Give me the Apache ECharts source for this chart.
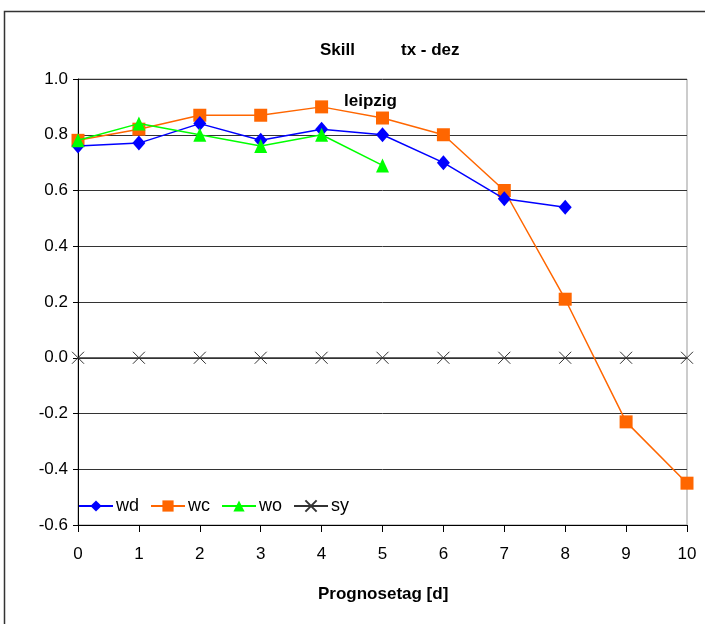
<!DOCTYPE html>
<html><head><meta charset="utf-8">
<script src="https://cdn.jsdelivr.net/npm/echarts@6/dist/echarts.min.js"></script>
<style>html,body{margin:0;padding:0;background:#fff}#c{width:705px;height:624px}</style>
</head><body><div id="c"></div>
<script>
const days = [0,1,2,3,4,5,6,7,8,9,10];
const wd = [0.76,0.77,0.84,0.78,0.82,0.80,0.70,0.57,0.54];
const wc = [0.78,0.82,0.87,0.87,0.90,0.86,0.80,0.60,0.21,-0.23,-0.45];
const wo = [0.78,0.84,0.80,0.76,0.80,0.69];
const sy = [0,0,0,0,0,0,0,0,0,0,0];
const xTicks = [0,1,2,3,4,5,6,7,8,9,10];
const yTicks = [-0.6,-0.4,-0.2,0.0,0.2,0.4,0.6,0.8,1.0];

const pairs = arr => arr.map((v,i)=>[days[i],v]);
const FONT = '"Liberation Sans", Arial, sans-serif';
const chart = echarts.init(document.getElementById('c'), null, {renderer:'canvas'});
chart.setOption({
  animation:false,
  backgroundColor:'#fff',
  textStyle:{fontFamily:FONT},
  title:[
    {text:'Skill', left:320, top:42, padding:0, textStyle:{fontFamily:FONT,fontSize:17,fontWeight:'bold',color:'#000'}},
    {text:'tx - dez', left:401, top:42, padding:0, textStyle:{fontFamily:FONT,fontSize:17,fontWeight:'bold',color:'#000'}},
    {text:'leipzig', left:344, top:93, padding:0, textStyle:{fontFamily:FONT,fontSize:17,fontWeight:'bold',color:'#000'}},
    {text:'Prognosetag [d]', left:318, top:586, padding:0, textStyle:{fontFamily:FONT,fontSize:17,fontWeight:'bold',color:'#000'}}
  ],
  graphic:[{type:'rect', shape:{x:4.5,y:11.5,width:800,height:700}, style:{fill:'none',stroke:'#333',lineWidth:1.5}, silent:true}],
  grid:{left:78, right:18, top:79, bottom:99, show:true, borderColor:'#999', borderWidth:1, containLabel:false},
  legend:{
    left:78, top:497, padding:0, itemWidth:34, itemHeight:14, itemGap:11,
    textStyle:{fontFamily:FONT,fontSize:18,color:'#000',padding:[0,0,0,-2]},
    data:['wd','wc','wo','sy']
  },
  xAxis:{
    type:'value', min:0, max:10, interval:1,
    axisLine:{show:true,onZero:false,lineStyle:{color:'#000',width:1}},
    axisTick:{show:true,length:7,lineStyle:{color:'#000'}},
    axisLabel:{fontFamily:FONT,fontSize:17,color:'#000',margin:21,
      formatter:v=>xTicks.includes(v)?String(v):''},
    splitLine:{show:false}
  },
  yAxis:{
    type:'value', min:-0.6, max:1.0, interval:0.2,
    axisLine:{show:true,onZero:false,lineStyle:{color:'#000',width:1}},
    axisTick:{show:true,length:5,lineStyle:{color:'#000'}},
    axisLabel:{fontFamily:FONT,fontSize:17,color:'#000',margin:10,
      formatter:v=>{const t=yTicks.find(y=>Math.abs(y-v)<1e-6);return t===undefined?'':t.toFixed(1);}},
    splitLine:{show:true,lineStyle:{color:'#333',width:1}}
  },
  series:[
    {name:'sy', type:'line', data:pairs(sy), z:2,
      symbol:'path://M0,0L10,10M10,0L0,10', symbolSize:12,
      lineStyle:{color:'#333',width:1},
      itemStyle:{color:'#333',borderColor:'#333',borderWidth:1}},
    {name:'wd', type:'line', data:pairs(wd), z:4,
      symbol:'diamond', symbolSize:[13,15],
      lineStyle:{color:'#0000ff',width:1.5}, itemStyle:{color:'#0000ff'}},
    {name:'wc', type:'line', data:pairs(wc), z:3,
      symbol:'rect', symbolSize:13,
      lineStyle:{color:'#ff6600',width:1.5}, itemStyle:{color:'#ff6600'}},
    {name:'wo', type:'line', data:pairs(wo), z:5,
      symbol:'triangle', symbolSize:[13,14],
      lineStyle:{color:'#00ff00',width:1.5}, itemStyle:{color:'#00ff00'}}
  ]
});
</script></body></html>
